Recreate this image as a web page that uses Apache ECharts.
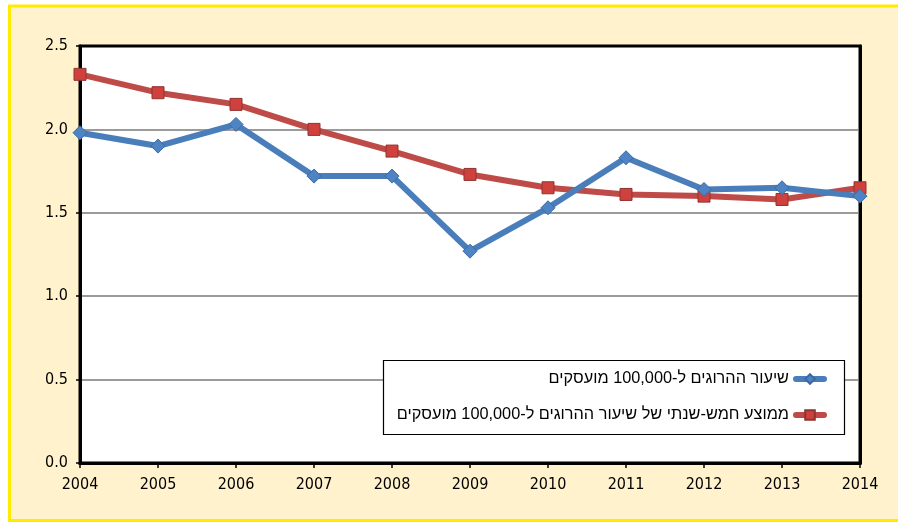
<!DOCTYPE html>
<html>
<head>
<meta charset="utf-8">
<script src="https://cdn.jsdelivr.net/npm/echarts@6/dist/echarts.min.js"></script>
<style>html,body{margin:0;padding:0;background:#fff;}#c{width:898px;height:523px;}</style>
</head>
<body>
<div id="c"></div>
<script>
const years = ['2004','2005','2006','2007','2008','2009','2010','2011','2012','2013','2014'];
const rateName = 'שיעור ההרוגים ל-100,000 מועסקים';
const avgName = 'ממוצע חמש-שנתי של שיעור ההרוגים ל-100,000 מועסקים';
const rateValues = [1.98, 1.90, 2.03, 1.72, 1.72, 1.27, 1.53, 1.83, 1.64, 1.65, 1.60];
const avgValues = [2.33, 2.22, 2.15, 2.00, 1.87, 1.73, 1.65, 1.61, 1.60, 1.58, 1.65];
const yTicks = { min: 0, max: 2.5, interval: 0.5 };

const tickFont = '"DejaVu Sans Condensed", "DejaVu Sans", sans-serif';
const legendFont = '"Liberation Sans", "DejaVu Sans", sans-serif';
const blue = '#4a7ebb', red = '#be4b48';

const legendCommon = {
  orient: 'vertical', align: 'right', right: 66, z: 110,
  itemWidth: 28, itemHeight: 12,
  textStyle: { fontFamily: legendFont, fontSize: 16.3, color: '#000', padding: [0, 2, 0, 0] },
  lineStyle: { width: 6, cap: 'round' }
};

const chart = echarts.init(document.getElementById('c'), null, { renderer: 'canvas' });
chart.setOption({
  animation: false,
  backgroundColor: '#ffffff',
  graphic: [
    { type: 'rect', z: -10, silent: true,
      shape: { x: 9.5, y: 6, width: 1000, height: 514.5 },
      style: { fill: '#fff2cc', stroke: '#ffeb00', lineWidth: 3 } },
    { type: 'rect', z: 100, silent: true,
      shape: { x: 383.5, y: 360.5, width: 461, height: 74 },
      style: { fill: '#ffffff', stroke: '#000000', lineWidth: 1.2 } }
  ],
  grid: { left: 80, top: 46, right: 38, bottom: 60, show: true, backgroundColor: '#ffffff', borderColor: '#000', borderWidth: 3 },
  legend: [
    Object.assign({ data: [rateName], top: 366 }, legendCommon),
    Object.assign({ data: [avgName], top: 402 }, legendCommon)
  ],
  xAxis: [{
    type: 'category', data: years, boundaryGap: false,
    axisLine: { lineStyle: { color: '#000', width: 3 } },
    axisTick: { show: true, length: 5, lineStyle: { color: '#000', width: 1.5 } },
    axisLabel: { fontFamily: tickFont, fontSize: 16, color: '#000', margin: 14 },
    splitLine: { show: false }
  }, {
    type: 'category', data: years, boundaryGap: false, position: 'top',
    axisLine: { lineStyle: { color: '#000', width: 3 } },
    axisTick: { show: false }, axisLabel: { show: false }, splitLine: { show: false }
  }],
  yAxis: [{
    type: 'value', min: yTicks.min, max: yTicks.max, interval: yTicks.interval,
    axisLine: { show: true, lineStyle: { color: '#000', width: 3 } },
    axisTick: { show: true, length: 4, lineStyle: { color: '#000', width: 1.5 } },
    axisLabel: { fontFamily: tickFont, fontSize: 16, color: '#000', margin: 12,
      formatter: v => v.toFixed(1) },
    splitLine: { show: true, showMaxLine: false, showMinLine: false, lineStyle: { color: '#7a7a7a', width: 1.5 } }
  }, {
    type: 'value', min: yTicks.min, max: yTicks.max, interval: yTicks.interval, position: 'right',
    axisLine: { show: true, lineStyle: { color: '#000', width: 3 } },
    axisTick: { show: false }, axisLabel: { show: false }, splitLine: { show: false }
  }],
  series: [
    { name: rateName, type: 'line', data: rateValues, z: 3,
      symbol: 'diamond', symbolSize: 14,
      lineStyle: { color: blue, width: 6 },
      itemStyle: { color: '#4f84c4', borderColor: '#3a6aa5', borderWidth: 1 } },
    { name: avgName, type: 'line', data: avgValues, z: 2,
      symbol: 'rect', symbolSize: 12,
      lineStyle: { color: red, width: 6 },
      itemStyle: { color: '#d0403c', borderColor: '#8e3431', borderWidth: 1 } }
  ]
});
</script>
</body>
</html>
